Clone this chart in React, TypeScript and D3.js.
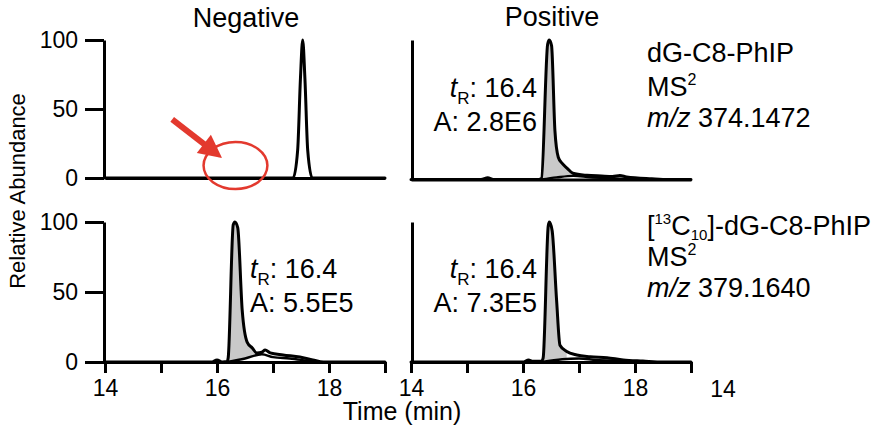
import React, { useEffect, useRef } from 'react';
import * as d3 from 'd3';

// ---------------- data ----------------
const timeDomain: [number, number] = [14, 19];
const timeTicks = [14, 15, 16, 17, 18, 19];
const timeTickLabels = ['14', '', '16', '', '18', ''];
const abundanceDomain: [number, number] = [0, 100];
const abundanceTicks = [0, 50, 100];

const columnTitles = ['Negative', 'Positive'];

// Negative mode, dG-C8-PhIP (m/z 374.1472)
const negNativeTime = [14, 16.5, 17.3, 17.36, 17.44, 17.49, 17.53, 17.57, 17.62, 17.7, 17.8, 19];
const negNativeAbund = [0, 0, 0, 0, 20, 72, 100, 72, 20, 0, 0, 0];

// Positive mode, dG-C8-PhIP
const posNativeTime = [14, 15.25, 15.37, 15.47, 16.28, 16.33, 16.44, 16.47, 16.51, 16.57, 16.63, 16.7, 16.79, 16.89, 17.14, 17.4, 17.6, 17.73, 17.85, 18.3, 18.6, 19];
const posNativeAbund = [0, 0, 1.2, 0, 0, 0.8, 97, 100, 96, 35, 16, 11.5, 8, 4.5, 3, 2.5, 2.2, 2.9, 1.8, 0.5, 0, 0];
const posNativeLowTime = [16.33, 16.6, 16.9, 17.2, 17.5, 18.0, 18.5];
const posNativeLowAbund = [0, 1.5, 2.6, 1.6, 1.0, 0.3, 0];

// Negative mode, [13C10]-dG-C8-PhIP (m/z 379.1640)
const negLabelTime = [14, 15.9, 16.0, 16.1, 16.18, 16.2, 16.29, 16.32, 16.37, 16.45, 16.54, 16.63, 16.71, 16.8, 16.86, 16.95, 17.18, 17.48, 17.71, 17.9, 19];
const negLabelAbund = [0, 0, 1.5, 0, 0.3, 3, 98, 100, 96, 37, 14, 10, 6.5, 7, 8.5, 6.5, 5, 3.5, 1.5, 0, 0];
const negLabelLowTime = [16.18, 16.5, 16.8, 17.0, 17.3, 17.6, 17.8];
const negLabelLowAbund = [0, 2.5, 5.5, 3.5, 2.5, 1, 0];

// Positive mode, [13C10]-dG-C8-PhIP
const posLabelTime = [14, 16.0, 16.1, 16.16, 16.22, 16.33, 16.36, 16.45, 16.47, 16.52, 16.6, 16.66, 16.78, 16.96, 17.2, 17.5, 17.79, 18.14, 18.5, 19];
const posLabelAbund = [0, 0, 1.5, 0.6, 0.5, 0.5, 3, 97, 100, 94, 44, 12, 7.5, 5, 3.8, 3, 1.5, 0.7, 0, 0];
const posLabelLowTime = [16.34, 16.7, 17.0, 17.3, 17.8, 18.2];
const posLabelLowAbund = [0, 2, 2.5, 1.5, 0.8, 0];

// integrated windows (start, end) for the shaded peaks
const shadeNegLabel: [number, number] = [16.18, 16.8];
const shadePosNative: [number, number] = [16.33, 16.89];
const shadePosLabel: [number, number] = [16.34, 16.78];

const retentionTimes = ['16.4', '16.4', '16.4'];
const peakAreas = ['2.8E6', '5.5E5', '7.3E5'];

const analyteTop = ['dG-C8-PhIP', 'MS', 'm/z', '374.1472'];
const analyteBottom = ['dG-C8-PhIP', 'MS', 'm/z', '379.1640'];

// ------------- layout -------------
const W = 885;
const H = 432;
const FONT = '"Liberation Sans", Arial, Helvetica, sans-serif';
const RED = '#e3392e';

const xLeft = d3.scaleLinear().domain(timeDomain).range([105, 385]);
const xRight = d3.scaleLinear().domain(timeDomain).range([411, 691]);
const yTopL = d3.scaleLinear().domain(abundanceDomain).range([178, 40]);
const yTopR = d3.scaleLinear().domain(abundanceDomain).range([179.5, 40]);
const yBot = d3.scaleLinear().domain(abundanceDomain).range([362, 222]);

type Pt = [number, number];
const zip = (t: number[], v: number[]): Pt[] => t.map((d, i) => [d, v[i]]);

function tracePath(x: d3.ScaleLinear<number, number>, y: d3.ScaleLinear<number, number>, pts: Pt[]) {
  return d3
    .line<Pt>()
    .x((d) => x(d[0]))
    .y((d) => y(d[1]))
    .curve(d3.curveMonotoneX)(pts) as string;
}

function shadePath(
  x: d3.ScaleLinear<number, number>,
  y: d3.ScaleLinear<number, number>,
  pts: Pt[],
  win: [number, number],
  low: Pt[]
) {
  const lowInterp = (t: number) => {
    for (let i = 0; i < low.length - 1; i++) {
      if (t >= low[i][0] && t <= low[i + 1][0]) {
        const f = (t - low[i][0]) / (low[i + 1][0] - low[i][0]);
        return low[i][1] + f * (low[i + 1][1] - low[i][1]);
      }
    }
    return 0;
  };
  const inside = pts.filter((d) => d[0] >= win[0] && d[0] <= win[1]);
  return d3
    .area<Pt>()
    .x((d) => x(d[0]))
    .y0((d) => y(Math.min(lowInterp(d[0]), d[1])))
    .y1((d) => y(d[1]))
    .curve(d3.curveMonotoneX)(inside) as string;
}

function styleAxis(g: d3.Selection<SVGGElement, unknown, null, undefined>, fontSize: number) {
  g.attr('font-family', FONT).attr('font-size', fontSize).attr('color', '#000');
  g.selectAll('.domain').attr('stroke-width', 3);
  g.selectAll('.tick line').attr('stroke-width', 3);
  g.selectAll('.tick text').attr('fill', '#000');
}

const Axis: React.FC<{ make: () => d3.Axis<any>; transform: string; fontSize?: number }> = ({
  make,
  transform,
  fontSize = 23,
}) => {
  const ref = useRef<SVGGElement>(null);
  useEffect(() => {
    if (!ref.current) return;
    const g = d3.select(ref.current);
    g.call(make() as any);
    styleAxis(g as any, fontSize);
  }, []);
  return <g ref={ref} transform={transform} />;
};

const TR: React.FC<{ x: number; y: number; anchor: 'start' | 'end'; tr: string; area: string }> = ({
  x,
  y,
  anchor,
  tr,
  area,
}) => (
  <g fontFamily={FONT} fontSize={27} fill="#000" textAnchor={anchor}>
    <text x={x} y={y}>
      <tspan fontStyle="italic">t</tspan>
      <tspan fontSize={17} dy={7}>R</tspan>
      <tspan dy={-7}>: {tr}</tspan>
    </text>
    <text x={x} y={y + 34}>A: {area}</text>
  </g>
);

export default function App() {
  const negNative = zip(negNativeTime, negNativeAbund);
  const posNative = zip(posNativeTime, posNativeAbund);
  const posNativeLow = zip(posNativeLowTime, posNativeLowAbund);
  const negLabel = zip(negLabelTime, negLabelAbund);
  const negLabelLow = zip(negLabelLowTime, negLabelLowAbund);
  const posLabel = zip(posLabelTime, posLabelAbund);
  const posLabelLow = zip(posLabelLowTime, posLabelLowAbund);

  // annotation: circle + arrow, in data units of top-left panel
  const ellC: Pt = [16.33, 9];
  const ellRx = xLeft(16.9) - xLeft(16.33);
  const ellRy = yTopL(0) - yTopL(17);
  const arrowFrom: Pt = [15.2, 42.5];
  const arrowTo: Pt = [16.09, 14.5];
  const ax0 = xLeft(arrowFrom[0]);
  const ay0 = yTopL(arrowFrom[1]);
  const ax1 = xLeft(arrowTo[0]);
  const ay1 = yTopL(arrowTo[1]);
  const len = Math.hypot(ax1 - ax0, ay1 - ay0);
  const ux = (ax1 - ax0) / len;
  const uy = (ay1 - ay0) / len;
  const headL = 23;
  const headW = 11.5;
  const bx = ax1 - ux * headL;
  const by = ay1 - uy * headL;
  const headPts = [
    [ax1, ay1],
    [bx - uy * headW, by + ux * headW],
    [bx + uy * headW, by - ux * headW],
  ]
    .map((p) => p.join(','))
    .join(' ');

  const lineStyle = {
    fill: 'none',
    stroke: '#000',
    strokeWidth: 3,
    strokeLinejoin: 'round' as const,
    strokeLinecap: 'round' as const,
  };
  const thinStyle = { ...lineStyle, strokeWidth: 2.4 };

  return (
    <svg
      width={W}
      height={H}
      viewBox={`0 0 ${W} ${H}`}
      style={{ position: 'absolute', left: 0, top: 0, background: '#fff' }}
    >
      <rect width={W} height={H} fill="#fff" />

      {/* titles */}
      <g fontFamily={FONT} fontSize={27} fill="#000" textAnchor="middle">
        <text x={246} y={27}>{columnTitles[0]}</text>
        <text x={552} y={26}>{columnTitles[1]}</text>
      </g>

      {/* y label */}
      <text
        transform="translate(25,191) rotate(-90)"
        fontFamily={FONT}
        fontSize={22}
        textAnchor="middle"
        fill="#000"
      >
        Relative Abundance
      </text>

      {/* x label */}
      <text x={402} y={420} fontFamily={FONT} fontSize={25} textAnchor="middle" fill="#000">
        Time (min)
      </text>

      {/* shaded peaks */}
      <path d={shadePath(xLeft, yBot, negLabel, shadeNegLabel, negLabelLow)} fill="#c9c9c9" />
      <path d={shadePath(xRight, yTopR, posNative, shadePosNative, posNativeLow)} fill="#c9c9c9" />
      <path d={shadePath(xRight, yBot, posLabel, shadePosLabel, posLabelLow)} fill="#c9c9c9" />

      {/* lower traces */}
      <path d={tracePath(xLeft, yBot, negLabelLow)} style={thinStyle} />
      <path d={tracePath(xRight, yTopR, posNativeLow)} style={thinStyle} />
      <path d={tracePath(xRight, yBot, posLabelLow)} style={thinStyle} />

      {/* main traces */}
      <path d={tracePath(xLeft, yTopL, negNative)} style={lineStyle} />
      <path d={tracePath(xRight, yTopR, posNative)} style={lineStyle} />
      <path d={tracePath(xLeft, yBot, negLabel)} style={lineStyle} />
      <path d={tracePath(xRight, yBot, posLabel)} style={lineStyle} />

      {/* axes */}
      <Axis
        make={() => d3.axisLeft(yTopL).tickValues(abundanceTicks).tickSize(19).tickPadding(7).tickSizeOuter(0)}
        transform="translate(104,0)"
      />
      <Axis
        make={() => d3.axisLeft(yBot).tickValues(abundanceTicks).tickSize(19).tickPadding(7).tickSizeOuter(0)}
        transform="translate(104,0)"
      />
      <Axis make={() => d3.axisLeft(yTopR).tickValues([]).tickSizeOuter(0)} transform="translate(412,0)" />
      <Axis make={() => d3.axisLeft(yBot).tickValues([]).tickSizeOuter(0)} transform="translate(412,0)" />
      <Axis make={() => d3.axisBottom(xLeft).tickValues([]).tickSizeOuter(0)} transform="translate(0,178)" />
      <Axis make={() => d3.axisBottom(xRight).tickValues([]).tickSizeOuter(0)} transform="translate(0,179.5)" />
      <Axis
        make={() =>
          d3
            .axisBottom(xLeft)
            .tickValues(timeTicks)
            .tickFormat((_d, i) => timeTickLabels[i])
            .tickSize(11)
            .tickPadding(7)
            .tickSizeOuter(0)
        }
        transform="translate(0,362)"
      />
      <Axis
        make={() =>
          d3
            .axisBottom(xRight)
            .tickValues(timeTicks)
            .tickFormat((_d, i) => timeTickLabels[i])
            .tickSize(11)
            .tickPadding(7)
            .tickSizeOuter(0)
        }
        transform="translate(0,362)"
      />
      {/* stray label in original figure */}
      <text x={723} y={397} fontFamily={FONT} fontSize={23} textAnchor="middle" fill="#000">
        {timeTickLabels[0]}
      </text>

      {/* retention time / area annotations */}
      <TR x={537} y={97} anchor="end" tr={retentionTimes[0]} area={peakAreas[0]} />
      <TR x={250} y={278} anchor="start" tr={retentionTimes[1]} area={peakAreas[1]} />
      <TR x={537} y={278} anchor="end" tr={retentionTimes[2]} area={peakAreas[2]} />

      {/* analyte labels */}
      <g fontFamily={FONT} fontSize={27} fill="#000">
        <text x={647} y={62}>{analyteTop[0]}</text>
        <text x={647} y={96}>
          {analyteTop[1]}
          <tspan fontSize={16} dy={-11}>2</tspan>
        </text>
        <text x={647} y={127}>
          <tspan fontStyle="italic">{analyteTop[2]}</tspan> {analyteTop[3]}
        </text>

        <text x={647} y={235}>
          [<tspan fontSize={15} dy={-11}>13</tspan>
          <tspan dy={11}>C</tspan>
          <tspan fontSize={15} dy={5}>10</tspan>
          <tspan dy={-5}>]-{analyteBottom[0]}</tspan>
        </text>
        <text x={647} y={266}>
          {analyteBottom[1]}
          <tspan fontSize={16} dy={-11}>2</tspan>
        </text>
        <text x={647} y={297}>
          <tspan fontStyle="italic">{analyteBottom[2]}</tspan> {analyteBottom[3]}
        </text>
      </g>

      {/* red annotation */}
      <ellipse
        cx={xLeft(ellC[0])}
        cy={yTopL(ellC[1])}
        rx={ellRx}
        ry={ellRy}
        fill="none"
        stroke={RED}
        strokeWidth={2.5}
      />
      <line x1={ax0} y1={ay0} x2={bx + ux * 2} y2={by + uy * 2} stroke={RED} strokeWidth={6} />
      <polygon points={headPts} fill={RED} />
    </svg>
  );
}
